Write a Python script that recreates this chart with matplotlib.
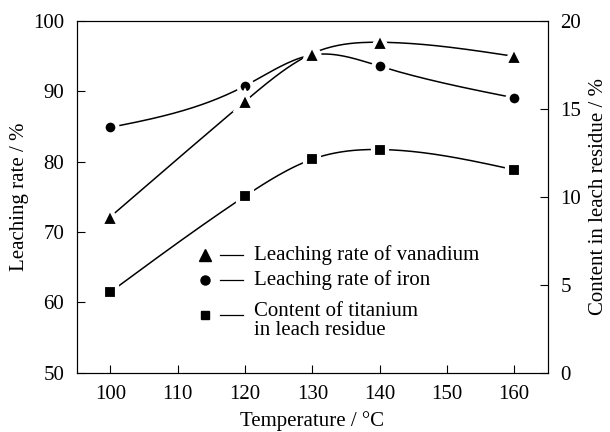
import numpy as np
import matplotlib
matplotlib.use("Agg")
import matplotlib.pyplot as plt

plt.rcParams['font.family'] = ['Liberation Serif', 'DejaVu Serif']

temperature = [100, 120, 130, 140, 160]
vanadium = [72.2, 88.6, 95.4, 97.0, 95.0]       # leaching rate, %
iron = [84.9, 90.8, 95.2, 93.6, 89.1]           # leaching rate, %
titanium = [4.6, 10.05, 12.15, 12.7, 11.55]     # content in residue, %

labels = ["Leaching rate of vanadium", "Leaching rate of iron",
          "Content of titanium\nin leach residue"]


def spline(x, y, n=200):
    # natural cubic spline, only used to draw the smooth connecting curve
    x = np.asarray(x, float)
    y = np.asarray(y, float)
    k = len(x)
    h = np.diff(x)
    A = np.zeros((k, k))
    b = np.zeros(k)
    A[0, 0] = A[-1, -1] = 1
    for i in range(1, k - 1):
        A[i, i - 1] = h[i - 1]
        A[i, i] = 2 * (h[i - 1] + h[i])
        A[i, i + 1] = h[i]
        b[i] = 6 * ((y[i + 1] - y[i]) / h[i] - (y[i] - y[i - 1]) / h[i - 1])
    m = np.linalg.solve(A, b)
    xs = np.linspace(x[0], x[-1], n)
    idx = np.clip(np.searchsorted(x, xs) - 1, 0, k - 2)
    x0, x1 = x[idx], x[idx + 1]
    hh = x1 - x0
    t0, t1 = x1 - xs, xs - x0
    ys = (m[idx] * t0**3 + m[idx + 1] * t1**3) / (6 * hh) \
        + (y[idx] / hh - m[idx] * hh / 6) * t0 \
        + (y[idx + 1] / hh - m[idx + 1] * hh / 6) * t1
    return xs, ys


fig, ax = plt.subplots(figsize=(6.1, 4.32), dpi=100)
fig.subplots_adjust(left=0.126, right=0.898, top=0.951, bottom=0.137)
ax2 = ax.twinx()

mk = dict(color='black', markeredgecolor='white', markeredgewidth=3, linestyle='none')

xs, ys = spline(temperature, iron)
ax.plot(xs, ys, color='black', lw=1.1, zorder=2)
xs, ys = spline(temperature, vanadium)
ax.plot(xs, ys, color='black', lw=1.1, zorder=2)
ax.plot(temperature, iron, marker='o', markersize=10, zorder=3, **mk)
ax.plot(temperature, vanadium, marker='^', markersize=13, zorder=4, **mk)

xs, ys = spline(temperature, titanium)
ax2.plot(xs, ys, color='black', lw=1.1)
ax2.plot(temperature, titanium, marker='s', markersize=9.5, **mk)

ax.set_xlim(95, 165)
ax.set_ylim(50, 100)
ax2.set_ylim(0, 20)
ax.set_xticks(range(100, 161, 10))
ax.set_yticks(range(50, 101, 10))
ax2.set_yticks(range(0, 21, 5))

fs = 15
ax.tick_params(axis='x', direction='in', labelsize=fs, length=6, pad=9, top=False)
ax.tick_params(axis='y', direction='in', labelsize=fs, length=6, pad=9)
ax2.tick_params(direction='in', labelsize=fs, length=6, pad=9)
ax.set_xlabel("Temperature / °C", fontsize=fs, labelpad=5)
ax.set_ylabel("Leaching rate / %", fontsize=fs, labelpad=3)
ax2.set_ylabel("Content in leach residue / %", fontsize=fs, labelpad=6)

# hand-drawn legend: marker, short line, text
rows = [0.335, 0.264, 0.165]
text_y = [0.335, 0.264, 0.148]
markers = [('^', 9), ('o', 6.5), ('s', 6)]
for yy, ty, (m, s), lab in zip(rows, text_y, markers, labels):
    ax.plot([0.272], [yy], transform=ax.transAxes, marker=m, markersize=s,
            color='black', linestyle='none')
    ax.plot([0.305, 0.352], [yy, yy], transform=ax.transAxes, color='black', lw=0.9)
    ax.text(0.376, ty, lab, transform=ax.transAxes, fontsize=fs,
            va='center', linespacing=1.0)

fig.savefig("out.png", dpi=100)
